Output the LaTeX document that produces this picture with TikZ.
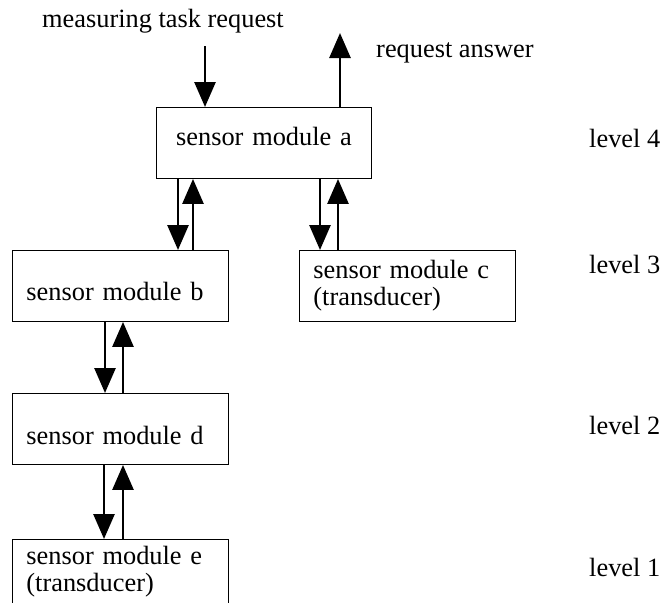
\documentclass[tikz,border=0pt]{standalone}
\usepackage{fontspec}
\setmainfont{Liberation Serif}
\usetikzlibrary{arrows.meta}

\begin{document}
\begin{tikzpicture}[x=0.03cm,y=-0.03cm,
every node/.style={font=\fontsize{22.5}{23}\selectfont},
modbox/.style={draw,line width=0.8pt,minimum height=2.13cm,inner xsep=0.42cm,inner ysep=0pt,text width=5.64cm,align=left,anchor=north west},
lbl/.style={anchor=base west,inner sep=0pt},
flow/.style={line width=2.3pt,-{Triangle[length=0.75cm,width=0.63cm]}}]
\useasboundingbox (0,0) rectangle (662,602);
\clip (0,0) rectangle (662,602);

\node [modbox,text width=5.61cm,align=center,text height=0.7em,text depth=0.3em] (a) at (156,107) {sensor module a};
\node [modbox,text height=0.9cm] (b) at (12,250) {sensor module b};
\node [modbox] (c) at (299,250) {sensor module c\\(transducer)};
\node [modbox,text height=0.95cm] (d) at (12,393) {sensor module d};
\node [modbox,minimum height=1.95cm] (e) at (12,539) {sensor module e\\(transducer)};

\node [lbl] (req) at (42,27) {measuring task request};
\node [lbl] (ans) at (376,57) {request answer};
\coordinate (reqin) at (205,46);
\coordinate (ansout) at (340,33);

\node [lbl] (l4) at (589,147) {level 4};
\node [lbl] (l3) at (589,273) {level 3};
\node [lbl] (l2) at (589,434) {level 2};
\node [lbl] (l1) at (589,576) {level 1};

\draw [flow] (reqin) -- (a.north -| reqin);
\draw [flow] (a.north -| ansout) -- (ansout);

\draw [flow] (a.south -| 178,0) -- (b.north -| 178,0);
\draw [flow] (b.north -| 193,0) -- (a.south -| 193,0);
\draw [flow] (a.south -| 320,0) -- (c.north -| 320,0);
\draw [flow] (c.north -| 338,0) -- (a.south -| 338,0);

\draw [flow] (b.south -| 105,0) -- (d.north -| 105,0);
\draw [flow] (d.north -| 123,0) -- (b.south -| 123,0);
\draw [flow] (d.south -| 104,0) -- (e.north -| 104,0);
\draw [flow] (e.north -| 123,0) -- (d.south -| 123,0);

\end{tikzpicture}
\end{document}
